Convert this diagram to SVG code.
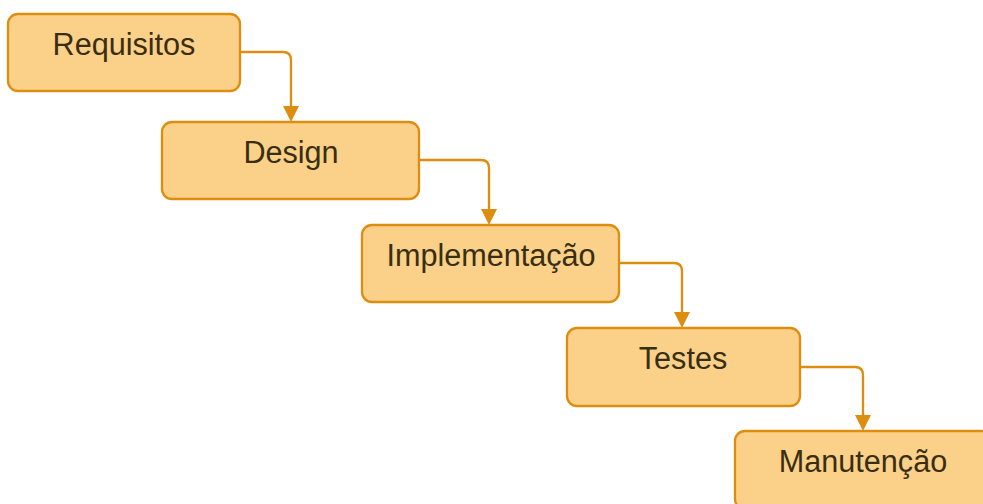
<svg xmlns="http://www.w3.org/2000/svg" width="983" height="504" viewBox="0 0 983 504">
<defs>
<style>
.box{fill:#FBD089;stroke:#DD8E10;stroke-width:2.3}
.lbl{font-family:"Liberation Sans",Arial,sans-serif;font-size:30.6px;fill:#3A2E12;text-anchor:middle}
.con{fill:none;stroke:#DD8E10;stroke-width:2.3}
.head{fill:#DD8E10}
</style>
</defs>
<rect width="983" height="504" fill="#FFFFFF"/>
<g id="connectors">
<path class="con" d="M240,52 H283 Q291,52 291,60 V106"/>
<path class="head" d="M283,106 H299 L291,122 Z"/>
<path class="con" d="M419,160 H481 Q489,160 489,168 V209"/>
<path class="head" d="M481,209 H497 L489,225 Z"/>
<path class="con" d="M619,263 H674 Q682,263 682,271 V312"/>
<path class="head" d="M674,312 H690 L682,328 Z"/>
<path class="con" d="M800,367 H855 Q863,367 863,375 V415"/>
<path class="head" d="M855,415 H871 L863,431 Z"/>
</g>
<g id="requisitos">
<rect class="box" x="8" y="14" width="232" height="77" rx="10"/>
<text class="lbl" x="124" y="55">Requisitos</text>
</g>
<g id="design">
<rect class="box" x="162" y="122" width="257" height="77" rx="10"/>
<text class="lbl" x="291" y="163">Design</text>
</g>
<g id="implementacao">
<rect class="box" x="362" y="225" width="257" height="77" rx="10"/>
<text class="lbl" x="491" y="266">Implementação</text>
</g>
<g id="testes">
<rect class="box" x="567" y="328" width="233" height="78" rx="10"/>
<text class="lbl" x="683" y="369">Testes</text>
</g>
<g id="manutencao">
<rect class="box" x="735" y="431" width="257" height="78" rx="10"/>
<text class="lbl" x="863" y="472">Manutenção</text>
</g>
</svg>
